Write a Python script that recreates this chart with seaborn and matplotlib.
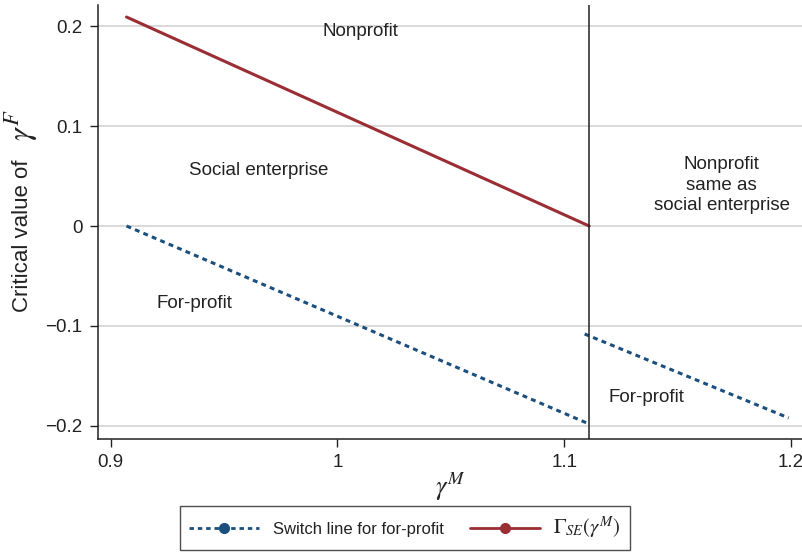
import matplotlib
matplotlib.use("Agg")
import matplotlib.pyplot as plt
from matplotlib.lines import Line2D
import seaborn as sns
import pandas as pd

# ---- data ----
gamma_m_switch_a = [0.907, 1.111]
switch_a = [0.000, -0.198]
gamma_m_switch_b = [1.109, 1.199]
switch_b = [-0.108, -0.192]
gamma_m_gse = [0.907, 1.111]
gamma_se = [0.209, 0.000]
threshold_x = 1.111
xticks = [0.9, 1.0, 1.1, 1.2]
xticklabels = ["0.9", "1", "1.1", "1.2"]
yticks = [-0.2, -0.1, 0.0, 0.1, 0.2]
yticklabels = ["\u22120.2", "\u22120.1", "0", "0.1", "0.2"]
region_labels = ["Nonprofit", "Social enterprise", "For-profit",
                 "Nonprofit\nsame as\nsocial enterprise", "For-profit"]
region_x = [1.010, 0.9653, 0.937, 1.1695, 1.1364]
region_y = [0.195, 0.056, -0.078, 0.041, -0.172]

BLUE = "#1b4f7e"
RED = "#9b2d35"

sns.set_theme(style="white")
plt.rcParams["font.family"] = ["Liberation Sans", "DejaVu Sans"]
plt.rcParams["mathtext.fontset"] = "stix"

fig = plt.figure(figsize=(8.03, 5.59), dpi=100)
ax = fig.add_axes([0.122, 0.2147, 0.878, 0.7763])

df_a = pd.DataFrame({"x": gamma_m_switch_a, "y": switch_a})
df_b = pd.DataFrame({"x": gamma_m_switch_b, "y": switch_b})
df_r = pd.DataFrame({"x": gamma_m_gse, "y": gamma_se})

for d in (df_a, df_b):
    sns.lineplot(data=d, x="x", y="y", ax=ax, color=BLUE, lw=2.2,
                 dashes=False, linestyle=(0, (1.6, 1.4)))
sns.lineplot(data=df_r, x="x", y="y", ax=ax, color=RED, lw=2.2)

ax.axvline(threshold_x, color="#222222", lw=1.1)

ax.set_xlim(0.8944, 1.2053)
ax.set_ylim(-0.213, 0.221)
ax.set_xticks(xticks)
ax.set_xticklabels(xticklabels)
ax.set_yticks(yticks)
ax.set_yticklabels(yticklabels)
ax.yaxis.grid(True, color="#d0d0d0", lw=1.1)
ax.xaxis.grid(False)
ax.set_axisbelow(True)
for s in ("top", "right"):
    ax.spines[s].set_visible(False)
for s in ("left", "bottom"):
    ax.spines[s].set_color("#222222")
    ax.spines[s].set_linewidth(1.1)
ax.tick_params(axis="both", which="both", direction="out", length=6,
               width=1.0, color="#222222", labelsize=13.5, labelcolor="#222222",
               left=True, bottom=True, pad=5)

ax.set_xlabel(r"$\gamma^M$", fontsize=19, color="#222222", labelpad=0)
ax.set_ylabel("")
fig.text(23 / 803, 1 - 236 / 559, "Critical value of", rotation=90, fontsize=16,
         ha="center", va="center", color="#222222")
fig.text(21 / 803, 1 - 125 / 559, r"$\gamma^F$", rotation=90, fontsize=23,
         ha="center", va="center", color="#222222")

for t, x, y in zip(region_labels, region_x, region_y):
    ax.text(x, y, t, ha="center", va="center", fontsize=13.5, color="#222222",
            linespacing=1.25)

handles = [
    Line2D([0], [0], color=BLUE, lw=2, linestyle=(0, (1.6, 1.4)), marker="o",
           markersize=7, markerfacecolor=BLUE, markeredgecolor=BLUE),
    Line2D([0], [0], color=RED, lw=2, marker="o", markersize=7,
           markerfacecolor=RED, markeredgecolor=RED),
]
labels = ["Switch line for for-profit", r"$\Gamma_{SE}(\gamma^M)$"]
leg = fig.legend(handles, labels, loc="center", bbox_to_anchor=(405 / 803, 1 - 528 / 559),
                 ncol=2, frameon=True, fancybox=False, fontsize=12, handlelength=4.2,
                 columnspacing=1.6, handletextpad=0.8, numpoints=1,
                 borderpad=0.55, edgecolor="#222222")
leg.get_frame().set_linewidth(1.0)
for t in leg.get_texts():
    t.set_color("#222222")
leg.get_texts()[1].set_fontsize(15)

fig.savefig("out.png", dpi=100)
